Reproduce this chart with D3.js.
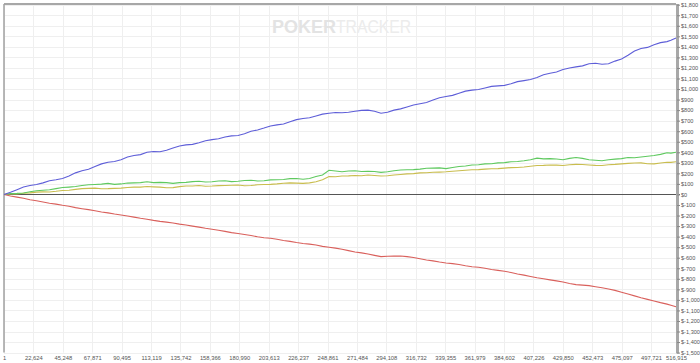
<!DOCTYPE html>
<html><head><meta charset="utf-8">
<script src="https://cdn.jsdelivr.net/npm/d3@7"></script>
<style>html,body{margin:0;padding:0;background:#fff;}svg{display:block;}</style>
</head><body>
<svg id="c" width="700" height="363"></svg>
<script>
const hands = [1,5000,10000,15000,20000,25000,30000,35000,40000,45000,50000,55000,60000,65000,70000,75000,80000,85000,90000,95000,100000,105000,110000,115000,120000,125000,130000,135000,140000,145000,150000,155000,160000,165000,170000,175000,180000,185000,190000,195000,200000,205000,210000,215000,220000,225000,230000,235000,240000,245000,250000,255000,260000,265000,270000,275000,280000,285000,290000,295000,300000,305000,310000,315000,320000,325000,330000,335000,340000,345000,350000,355000,360000,365000,370000,375000,380000,385000,390000,395000,400000,405000,410000,415000,420000,425000,430000,435000,440000,445000,450000,455000,460000,465000,470000,475000,480000,485000,490000,495000,500000,505000,510000,513000,516915];
const blueSeries = [0,20,45,70,85,95,110,130,140,152,175,205,225,240,265,290,305,312,330,355,370,378,400,408,405,420,440,460,470,475,490,510,520,528,545,556,560,575,600,612,630,650,660,668,690,710,720,728,745,762,770,778,775,780,790,798,800,790,770,780,800,812,830,848,860,872,895,918,930,940,960,980,990,995,1010,1025,1030,1035,1050,1070,1080,1090,1110,1135,1150,1162,1185,1200,1210,1220,1240,1245,1235,1240,1265,1285,1320,1360,1385,1395,1420,1440,1450,1462,1485];
const greenSeries = [0,8,10,14,25,35,40,44,55,66,70,75,85,92,95,98,105,96,100,108,110,112,120,112,115,112,105,112,115,122,125,118,120,128,130,122,125,132,135,128,130,138,140,142,150,152,145,152,170,185,230,222,215,222,225,218,220,218,210,215,225,232,235,236,240,248,250,252,245,255,265,270,280,282,290,292,300,302,310,312,320,330,345,338,340,336,330,342,350,342,330,325,320,330,335,340,350,348,355,362,370,380,395,392,400];
const yellowSeries = [0,4,5,12,15,22,25,24,30,38,40,48,55,58,60,54,55,58,60,66,70,70,75,72,70,64,65,74,80,80,85,78,80,84,85,88,90,82,85,92,95,96,100,106,110,108,105,110,120,140,170,168,175,176,180,178,185,180,175,178,185,190,195,198,205,206,210,212,215,220,225,230,235,236,240,244,245,250,255,256,260,268,275,276,280,278,275,282,285,284,280,276,275,282,285,290,295,298,300,292,290,298,305,304,310];
const redSeries = [0,-14,-25,-36,-50,-60,-72,-83,-92,-103,-112,-125,-135,-144,-155,-166,-175,-186,-195,-204,-215,-226,-235,-246,-255,-262,-270,-281,-290,-300,-310,-321,-330,-339,-350,-362,-370,-379,-390,-401,-410,-416,-425,-436,-445,-456,-465,-471,-480,-492,-500,-509,-520,-533,-545,-554,-565,-578,-590,-586,-585,-584,-590,-598,-610,-621,-630,-641,-650,-656,-665,-676,-685,-691,-700,-711,-720,-729,-740,-754,-765,-778,-790,-799,-810,-820,-830,-844,-855,-860,-865,-875,-885,-897,-910,-927,-945,-962,-980,-995,-1010,-1026,-1040,-1050,-1065];
const xTicks = [1,22624,45248,67871,90495,113119,135742,158366,180990,203613,226237,248861,271484,294108,316732,339355,361979,384602,407226,429850,452473,475097,497721,516915];
const yTicks = d3.range(-1500, 1801, 100);

const svg = d3.select('#c');
const L = 4, R = 676, T = 4.7, B = 352.6;
const x = d3.scaleLinear().domain([1, 516915]).range([L, R]);
const y = d3.scaleLinear().domain([-1500, 1800]).range([B, T]);
const FONT = 'Liberation Sans, Arial, sans-serif';

// grid
svg.append('g').selectAll('line').data(yTicks).join('line')
  .attr('x1', L).attr('x2', R).attr('y1', d => Math.round(y(d)) + 0.5).attr('y2', d => Math.round(y(d)) + 0.5)
  .attr('stroke', '#efefef').attr('stroke-width', 1);
svg.append('g').selectAll('line').data(xTicks).join('line')
  .attr('x1', d => Math.round(x(d)) + 0.5).attr('x2', d => Math.round(x(d)) + 0.5).attr('y1', T).attr('y2', B)
  .attr('stroke', '#efefef').attr('stroke-width', 1);

// watermark
const wm = svg.append('text').attr('x', 272).attr('y', 33).attr('font-family', FONT).attr('font-size', 18);
wm.append('tspan').text('POKER').attr('font-weight', 'bold').attr('fill', '#e3e3e3');
wm.append('tspan').text('TRACKER').attr('fill', '#ececec').attr('textLength', 75).attr('lengthAdjust', 'spacingAndGlyphs');

// borders
svg.append('line').attr('x1', L).attr('x2', R).attr('y1', 4).attr('y2', 4).attr('stroke', '#8a8a8a').attr('stroke-width', 1.5);
svg.append('line').attr('x1', L).attr('x2', L).attr('y1', 4).attr('y2', B).attr('stroke', '#a0a0a0').attr('stroke-width', 1.5);

// zero line
svg.append('line').attr('x1', L).attr('x2', R + 4).attr('y1', Math.round(y(0)) + 0.5).attr('y2', Math.round(y(0)) + 0.5)
  .attr('stroke', '#555').attr('stroke-width', 1);

// series
const line = d3.line().x((d, i) => x(hands[i])).y(d => y(d));
const series = [
  {v: yellowSeries, c: '#c9bd4e'},
  {v: greenSeries, c: '#5fc95f'},
  {v: redSeries, c: '#d9605c'},
  {v: blueSeries, c: '#5e5ed8'}
];
svg.append('g').selectAll('path').data(series).join('path')
  .attr('d', d => line(d.v)).attr('fill', 'none').attr('stroke', d => d.c).attr('stroke-width', 1.1);

// right axis
const ya = svg.append('g').attr('transform', `translate(${R + 1},0)`)
  .call(d3.axisRight(y).tickValues(yTicks).tickSize(3).tickPadding(1)
    .tickFormat(d => '$' + (d < 0 ? '-' : '') + d3.format(',')(Math.abs(d))));
ya.select('.domain').attr('stroke', '#a8a8a8').attr('stroke-width', 3).attr('d', `M0.5,4V${B + 1}`);
ya.selectAll('.tick line').attr('stroke', '#888');
ya.selectAll('.tick text').attr('fill', '#555').attr('font-size', 5.6).attr('font-family', FONT);

// bottom labels
const xa = svg.append('g').attr('transform', `translate(0,${B})`)
  .call(d3.axisBottom(x).tickValues(xTicks).tickSize(0).tickPadding(3).tickFormat(d3.format(',')));
xa.select('.domain').remove();
xa.selectAll('.tick text').attr('fill', '#555').attr('font-size', 5.8).attr('font-family', FONT);
</script>
</body></html>
